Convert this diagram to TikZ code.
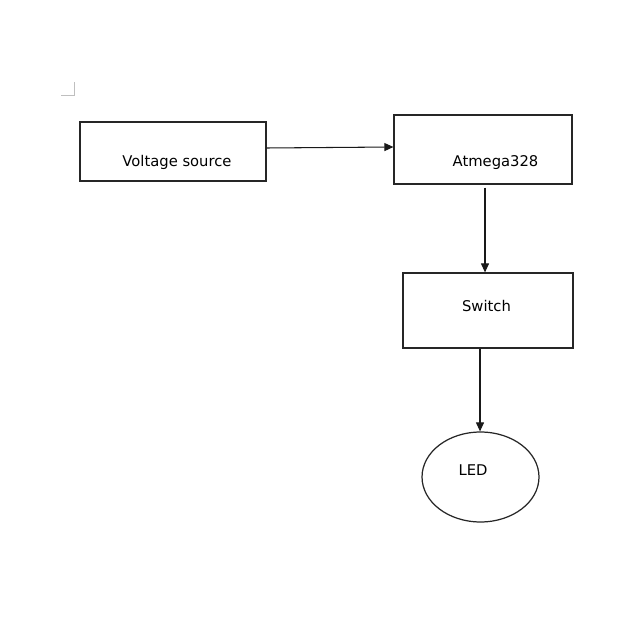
\documentclass[tikz,border=0pt]{standalone}
\usepackage{fontspec}
\setmainfont{DejaVu Sans}
\usepackage{xcolor}
\usepackage{tikz}
\usetikzlibrary{arrows.meta,shapes.geometric}

\begin{document}
\begin{tikzpicture}[x=0.02cm, y=-0.02cm,
        font=\fontsize{8.4}{10}\selectfont,
        blok/.style={rectangle, draw=black!85, line width=0.7pt, inner sep=0pt},
        strelka/.style={draw=black!90, line width=0.6pt, -{Triangle[length=0.18cm, width=0.16cm]}}]

        \useasboundingbox (0,0) rectangle (625,641);

        % Угловая метка страницы
        \draw[black!25, line width=0.5pt] (61,95) -- (74,95) -- (74,82);

        % Блоки схемы
        \node[blok, minimum width=3.72cm, minimum height=1.18cm,
            label={[xshift=0.08cm, yshift=-0.21cm]center:Voltage source}] (V) at (173,151.5) {};
        \node[blok, minimum width=3.56cm, minimum height=1.38cm,
            label={[xshift=0.25cm, yshift=-0.27cm]center:Atmega328}] (A) at (483,149.5) {};
        \node[blok, minimum width=3.4cm, minimum height=1.5cm,
            label={[xshift=-0.03cm, yshift=0.1cm]center:Switch}] (S) at (488,310.5) {};
        \node[blok, ellipse, minimum width=2.34cm, minimum height=1.8cm,
            label={[xshift=-0.15cm, yshift=0.14cm]center:LED}] (L) at (480.5,477) {};

        % Стрелки между блоками
        \draw[strelka] ([yshift=0.07cm]V.east) -- ([yshift=0.05cm]A.west);
        \draw[strelka] ([xshift=0.04cm, yshift=-0.06cm]A.south) -- ([xshift=0.04cm]A.south |- S.north);
        \draw[strelka] ([xshift=-0.16cm]S.south) -- ([xshift=-0.16cm]S.south |- L.north);

    \end{tikzpicture}
\end{document}
